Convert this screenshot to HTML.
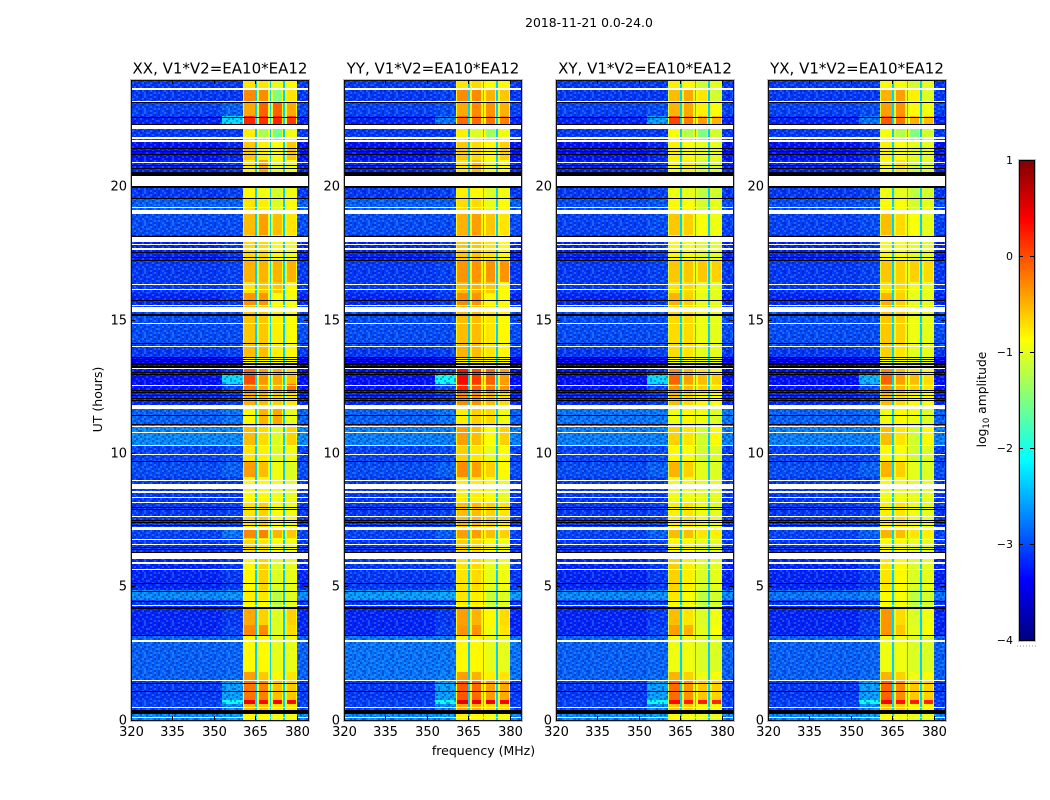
<!DOCTYPE html>
<html>
<head>
<meta charset="utf-8">
<title>2018-11-21 0.0-24.0</title>
<style>
html,body{margin:0;padding:0;background:#fff;}
svg{display:block;}
text{font-family:"DejaVu Sans","Liberation Sans",sans-serif;fill:#000;}
</style>
</head>
<body>
<svg id="figure" xmlns="http://www.w3.org/2000/svg" width="1050" height="800" viewBox="0 0 1050 800">
  <rect x="0" y="0" width="1050" height="800" fill="#fff"/>
  <defs>
    <pattern id="speckle" patternUnits="userSpaceOnUse" width="28" height="16"></pattern>
  </defs>
  <text x="589" y="27" text-anchor="middle" font-size="12.4">2018-11-21 0.0-24.0</text>
  <text x="483.5" y="755" text-anchor="middle" font-size="12.5">frequency (MHz)</text>
  <text x="0" y="0" transform="translate(102,399.5) rotate(-90)" text-anchor="middle" font-size="12.5">UT (hours)</text>
  <text x="0" y="0" transform="translate(986,399.5) rotate(-90)" text-anchor="middle" font-size="12.3">log<tspan font-size="8.5" dy="3">10</tspan><tspan dy="-3"> amplitude</tspan></text>
  <g id="panels"></g>
  <g id="colorbar"></g>
</svg>
<script>
// ---------- data ----------
const panelTitles = ["XX, V1*V2=EA10*EA12", "YY, V1*V2=EA10*EA12", "XY, V1*V2=EA10*EA12", "YX, V1*V2=EA10*EA12"];
const freqTicks = [320, 335, 350, 365, 380];
const utTicks = [0, 5, 10, 15, 20];
const colorbarTicks = [1, 0, -1, -2, -3, -4];

// frequency groups (MHz): quiet, band edge, then RFI chunks with shoulders and notches
const freqEdges = [320, 353, 360.5, 361, 364.7, 365, 365.7, 366.2, 369.6, 370.1, 370.7, 371.2, 374.5, 374.9, 375.8, 376.3, 379.6, 380, 384];
// which level column each group reads (-1 = notch between chunks, -2 = chunk shoulder)
const freqColumns = [0, 1, -2, 2, -2, -1, -2, 3, -2, -1, -2, 4, -2, -1, -2, 5, -2, 0];
const notchLevel = -2.35;
const shoulderLevels = [-0.9, -0.85, -1.0, -1.0];

// lower UT edge of each time band, from the top (24 h) down
const bandBottoms = [23.67,23.18,22.63,22.33,21.73,20.98,20.42,19.55,19.10,18.17,17.23,16.40,15.99,15.54,14.04,13.59,13.18,12.92,12.58,12.28,11.63,11.04,10.30,9.69,9.09,8.12,7.11,6.80,6.02,4.86,4.48,4.18,3.54,3.17,1.78,1.48,0.74,0.58,0.21,0];

// log10 amplitude per band: [quiet, edge, chunk1, chunk2, chunk3, chunk4]
const levelsXX = [
[-3.1,-3.1,-.75,-.75,-1.0,-.85],[-3.1,-3.1,-.3,-.3,-1.5,-.75],[-3.05,-2.9,-.45,-.1,-.1,-.45],[-3.2,-2.3,.2,.15,.2,.1],
[-3.1,-3.1,-.8,-1.3,-1.6,-.95],[-3.3,-3.2,-.6,-.8,-.9,-.6],[-3.2,-3.1,-.8,-.45,-1.0,-.95],[-3.1,-3.05,-.85,-.95,-1.1,-.95],
[-2.9,-2.9,-.75,-.8,-1.05,-.9],[-3.0,-3.0,-.55,-.4,-.55,-.75],[-3.2,-3.1,-.7,-.7,-.85,-.95],[-3.1,-3.05,-.5,-.5,-.5,-.5],
[-3.1,-3.05,-.75,-.6,-.6,-.85],[-3.2,-3.1,-.35,-.35,-.9,-.95],[-3.0,-3.0,-.6,-.6,-.8,-.9],[-3.1,-3.05,-.55,-.55,-.8,-.85],
[-3.4,-3.3,-.85,-.85,-.9,-.9],[-3.3,-3.1,-.15,-.4,-.5,-.7],[-3.3,-2.3,.0,-.35,-.45,-.55],[-3.3,-3.0,-.25,-.45,-.5,-.2],
[-3.2,-3.1,-.5,-.55,-.65,-.75],[-2.9,-2.8,-.85,-.5,-.45,-1.0],[-2.7,-2.7,-.55,-.7,-1.05,-.65],[-3.05,-3.0,-.75,-.8,-1.05,-.95],
[-3.0,-2.9,-.4,-.55,-.95,-1.05],[-3.1,-3.1,-.85,-.85,-.95,-1.0],[-3.1,-3.05,-.75,-.65,-.9,-.95],[-3.05,-2.8,-.3,-.25,-.5,-.6],
[-3.1,-3.05,-.7,-.75,-.9,-.95],[-3.2,-3.1,-.85,-.65,-1.05,-1.0],[-2.7,-2.65,-.8,-.75,-1.25,-1.05],[-3.1,-3.05,-.85,-.85,-1.25,-1.05],
[-3.2,-3.1,-.45,-.65,-1.05,-.65],[-3.2,-3.05,-.3,-.3,-1.05,-.7],[-2.9,-2.88,-.85,-.85,-1.0,-1.0],[-2.9,-2.85,-.4,-.6,-.85,-.75],
[-3.1,-2.6,-.2,-.25,-.55,-.6],[-3.05,-2.1,.45,.35,.4,.35],[-3.05,-2.7,-.55,-.6,-.75,-.75],[-2.7,-2.6,-.85,-.85,-.95,-.95]];
const levelsYY = [
[-3.1,-3.1,-.75,-.7,-.9,-.85],[-3.1,-3.05,-.3,-.3,-.5,-.6],[-3.05,-3.0,-.45,-.3,-.35,-.5],[-3.2,-2.8,-.15,-.15,-.2,-.25],
[-3.1,-3.1,-.8,-1.05,-1.35,-.95],[-3.3,-3.2,-.6,-.7,-.85,-.65],[-3.2,-3.1,-.75,-.55,-.95,-.9],[-3.1,-3.05,-.8,-.85,-1.05,-.95],
[-2.9,-2.9,-.7,-.7,-1.0,-.9],[-3.0,-3.0,-.5,-.4,-.6,-.75],[-3.2,-3.1,-.6,-.6,-.75,-.9],[-3.1,-3.05,-.35,-.35,-.35,-.35],
[-3.1,-3.05,-.55,-.5,-.6,-.85],[-3.2,-3.1,-.3,-.35,-.85,-.9],[-3.0,-3.0,-.55,-.55,-.75,-.85],[-3.1,-3.05,-.5,-.55,-.75,-.85],
[-3.4,-3.3,-.8,-.8,-.85,-.9],[-3.3,-3.0,.3,.0,-.15,-.4],[-3.3,-2.1,.35,.1,-.1,-.4],[-3.3,-3.0,.2,-.1,-.25,-.35],
[-3.2,-3.1,-.3,-.35,-.55,-.7],[-2.9,-2.8,-.8,-.65,-.7,-.95],[-2.75,-2.75,-.4,-.55,-.9,-.65],[-3.05,-3.0,-.65,-.75,-1.0,-.9],
[-3.0,-2.9,-.3,-.4,-.65,-.85],[-3.1,-3.1,-.8,-.8,-.9,-1.0],[-3.1,-3.05,-.55,-.55,-.65,-.75],[-3.05,-2.9,-.4,-.4,-.55,-.65],
[-3.1,-3.05,-.65,-.7,-.85,-.95],[-3.1,-3.05,-.75,-.7,-1.0,-.95],[-2.6,-2.55,-.75,-.8,-1.15,-1.05],[-3.1,-3.05,-.8,-.8,-1.15,-1.05],
[-3.2,-3.1,-.4,-.5,-.85,-.7],[-3.2,-3.05,-.35,-.35,-.95,-.75],[-2.8,-2.78,-.85,-.85,-1.0,-1.0],[-2.8,-2.75,-.4,-.5,-.8,-.75],
[-3.1,-2.6,-.05,-.15,-.4,-.45],[-3.05,-2.1,.5,.45,.45,.4],[-3.05,-2.7,-.45,-.5,-.7,-.7],[-2.7,-2.6,-.8,-.85,-.95,-.95]];
const levelsXY = [
[-3.1,-3.1,-.8,-.85,-1.1,-1.0],[-3.1,-3.1,-.55,-.45,-.75,-1.1],[-3.05,-3.0,-.5,-.45,-.8,-.9],[-3.2,-2.6,.05,-.25,-.4,-.5],
[-3.1,-3.1,-.9,-1.25,-1.5,-1.1],[-3.3,-3.2,-.8,-.9,-1.0,-1.0],[-3.2,-3.1,-.9,-.8,-1.1,-1.05],[-3.1,-3.05,-.95,-1.0,-1.2,-1.1],
[-3.0,-2.95,-.85,-.9,-1.1,-1.0],[-3.05,-3.0,-.6,-.65,-.9,-.95],[-3.2,-3.1,-.85,-.9,-1.0,-1.0],[-3.1,-3.05,-.6,-.6,-.6,-.65],
[-3.1,-3.05,-.75,-.7,-.95,-1.0],[-3.2,-3.1,-.5,-.65,-1.0,-1.0],[-3.0,-3.0,-.7,-.7,-.95,-1.0],[-3.1,-3.05,-.7,-.75,-1.0,-1.0],
[-3.4,-3.3,-.95,-.95,-1.0,-1.0],[-3.3,-3.1,-.35,-.55,-.75,-.85],[-3.3,-2.3,-.1,-.4,-.55,-.65],[-3.3,-3.0,-.35,-.55,-.65,-.75],
[-3.2,-3.1,-.55,-.7,-.85,-.9],[-2.8,-2.78,-.95,-.85,-.95,-1.05],[-2.75,-2.75,-.65,-.75,-1.1,-.85],[-3.05,-3.0,-.85,-.9,-1.1,-1.05],
[-3.0,-2.9,-.5,-.65,-1.0,-1.05],[-3.1,-3.1,-.95,-.95,-1.0,-1.0],[-3.1,-3.05,-.8,-.75,-.95,-1.0],[-3.05,-2.9,-.55,-.55,-.75,-.8],
[-3.1,-3.05,-.85,-.85,-1.0,-1.0],[-3.2,-3.1,-.65,-.8,-1.05,-1.0],[-2.7,-2.65,-.75,-.9,-1.2,-1.1],[-3.1,-3.05,-.9,-.95,-1.2,-1.1],
[-3.2,-3.1,-.55,-.75,-1.05,-.95],[-3.2,-3.05,-.4,-.5,-1.0,-.9],[-2.9,-2.88,-.95,-.95,-1.05,-1.05],[-2.9,-2.85,-.5,-.65,-.95,-.9],
[-3.1,-2.6,-.15,-.35,-.6,-.65],[-3.05,-2.1,.35,.25,.25,.2],[-3.05,-2.7,-.6,-.65,-.85,-.85],[-2.7,-2.6,-.9,-.95,-1.0,-1.0]];
const levelsYX = [
[-3.1,-3.1,-.85,-.9,-1.1,-1.0],[-3.1,-3.1,-.5,-.4,-.8,-1.05],[-3.05,-3.0,-.4,-.35,-.85,-.95],[-3.2,-2.8,-.05,-.2,-.5,-.55],
[-3.1,-3.1,-.9,-1.25,-1.5,-1.1],[-3.3,-3.2,-.8,-.9,-1.0,-1.0],[-3.2,-3.1,-.9,-.75,-1.1,-1.05],[-3.1,-3.05,-.95,-1.0,-1.2,-1.1],
[-3.0,-2.95,-.85,-.9,-1.1,-1.0],[-3.05,-3.0,-.55,-.7,-.9,-1.0],[-3.2,-3.1,-.85,-.9,-1.0,-1.0],[-3.1,-3.05,-.6,-.65,-.65,-.7],
[-3.1,-3.05,-.75,-.7,-.95,-1.0],[-3.2,-3.1,-.5,-.65,-1.0,-1.0],[-3.0,-3.0,-.6,-.65,-.95,-1.0],[-3.1,-3.05,-.65,-.75,-1.0,-1.0],
[-3.4,-3.3,-.95,-.95,-1.0,-1.0],[-3.3,-3.1,-.3,-.55,-.75,-.85],[-3.3,-2.5,-.1,-.4,-.55,-.7],[-3.3,-3.0,-.35,-.55,-.65,-.75],
[-3.2,-3.1,-.55,-.7,-.85,-.9],[-2.9,-2.85,-.95,-.85,-.95,-1.05],[-2.75,-2.75,-.55,-.75,-1.1,-.85],[-3.05,-3.0,-.85,-.9,-1.1,-1.05],
[-3.0,-2.9,-.5,-.65,-1.0,-1.05],[-3.1,-3.1,-.95,-.95,-1.0,-1.0],[-3.1,-3.05,-.8,-.75,-.95,-1.0],[-3.05,-2.9,-.5,-.55,-.75,-.8],
[-3.1,-3.05,-.85,-.85,-1.0,-1.0],[-3.2,-3.1,-.75,-.85,-1.05,-1.0],[-2.8,-2.75,-.85,-.9,-1.2,-1.1],[-3.1,-3.05,-.9,-.95,-1.2,-1.1],
[-3.2,-3.1,-.35,-.7,-1.05,-.95],[-3.2,-3.05,-.35,-.6,-1.0,-.9],[-2.9,-2.88,-.95,-.95,-1.05,-1.05],[-2.9,-2.85,-.5,-.65,-.95,-.9],
[-3.1,-2.6,-.1,-.3,-.6,-.65],[-3.05,-2.1,.4,.3,.25,.2],[-3.05,-2.7,-.6,-.65,-.85,-.85],[-2.7,-2.6,-.9,-.95,-1.0,-1.0]];
const panelLevels = [levelsXX, levelsYY, levelsXY, levelsYX];

// missing data (white): UT spans [upper, lower]
const missingSpans = [[23.67,23.60],[23.20,23.16],[22.32,22.14],[21.85,21.78],[21.73,21.67],[20.92,20.89],[20.38,20.00],[19.23,19.19],[19.10,18.95],[18.10,17.92],[17.83,17.79],[17.68,17.60],[16.33,16.29],[16.14,16.10],[15.54,15.50],[15.46,15.29],[14.87,14.83],[14.02,13.98],[13.20,13.16],[12.54,12.50],[11.79,11.63],[11.00,10.97],[10.78,10.74],[10.29,10.26],[9.96,9.92],[8.98,8.94],[8.83,8.64],[8.57,8.49],[8.36,8.32],[8.15,8.12],[7.63,7.59],[7.22,7.11],[6.77,6.73],[6.58,6.54],[6.24,6.02],[5.89,5.85],[5.65,5.61],[4.29,4.26],[2.98,2.91],[1.49,1.43],[0.47,0.43],[0.08,0.04]];
// flagged data (black): single-integration lines and thicker spans
const flaggedLines = [23.16,22.61,22.34,21.45,21.33,21.19,20.79,20.70,20.55,19.54,18.15,17.53,17.34,17.23,15.75,14.12,13.58,13.51,13.44,13.38,13.32,13.27,13.22,13.04,12.94,12.36,12.28,12.17,12.06,11.98,11.42,11.07,9.70,7.97,7.89,7.48,7.41,7.29,6.47,6.40,6.28,5.12,4.82,4.46,3.17,1.37,1.07];
const flaggedSpans = [[20.48,20.38],[20.00,19.95],[15.19,15.15],[4.21,4.15],[0.36,0.21]];

// hand-drawn noise tile for the quiet part of the band (decorative grain, not a data series)
const grainTile = [
"d.l.dd.l.d..l.",
".ld..l.d.dl..d",
"d..ll.d..l.d.l",
"l.d.d.l.d..ld.",
".d.l..d.ll.d..",
"dl.d.l..d.d.l.",
"..ld.d.l.l..dl",
"d.l..l.d.d.l.d"];

// ---------- layout and scales ----------
const SVG_NS = "http://www.w3.org/2000/svg";
const panelLefts = [131, 344, 556, 768];
const plotWidth = 177;
const plotBottom = 719.5;
const plotTop = 79.5;
const utPerPlot = 24;
const freqMin = 320, freqMax = 384;
function xScale(left, f){ return Math.round(left + (f - freqMin) / (freqMax - freqMin) * plotWidth); }
function yScale(u){ return Math.round(plotBottom - u / utPerPlot * (plotBottom - plotTop)); }
function clamp01(v){ return Math.max(0, Math.min(1, v)); }
function jet(level){
  const t = clamp01((level + 4) / 5);
  const r = clamp01(1.5 - Math.abs(4 * t - 3));
  const g = clamp01(1.5 - Math.abs(4 * t - 2));
  const b = clamp01(1.5 - Math.abs(4 * t - 1));
  return "rgb(" + Math.round(r * 255) + "," + Math.round(g * 255) + "," + Math.round(b * 255) + ")";
}
function make(tag, attrs, parent){
  const el = document.createElementNS(SVG_NS, tag);
  for (const k in attrs) el.setAttribute(k, attrs[k]);
  parent.appendChild(el);
  return el;
}
function fmtTick(v){ return v < 0 ? "\u2212" + Math.abs(v) : String(v); }

// grain pattern
const speckle = document.getElementById("speckle");
grainTile.forEach(function(row, r){
  row.split("").forEach(function(ch, c){
    if (ch === ".") return;
    const fill = ch === "d" ? "rgba(0,0,110,0.32)" : "rgba(110,215,255,0.24)";
    make("rect", {x: c * 2, y: r * 2, width: 2, height: 2, fill: fill}, speckle);
  });
});

// panels
const panelsGroup = document.getElementById("panels");
panelTitles.forEach(function(title, p){
  const left = panelLefts[p];
  const right = left + plotWidth;
  const top = Math.round(plotTop);
  const bottom = Math.round(plotBottom);
  const g = make("g", {}, panelsGroup);
  
  

  const titleEl = make("text", {x: left + plotWidth / 2 + 0.5, y: 73.5, "text-anchor": "middle", "font-size": 15}, g);
  titleEl.textContent = title;
  
  

  // heatmap cells
  const levels = panelLevels[p];
  bandBottoms.forEach(function(bottomUt, b){
    const upperUt = b === 0 ? utPerPlot : bandBottoms[b - 1];
    const y0 = yScale(upperUt), y1 = yScale(bottomUt);
    freqColumns.forEach(function(col, i){
      const x0 = xScale(left, freqEdges[i]), x1 = xScale(left, freqEdges[i + 1]);
      const level = col === -1 ? notchLevel : (col === -2 ? shoulderLevels[p] : levels[b][col]);
      const cell = make("rect", {x: x0, y: y0, width: x1 - x0, height: y1 - y0, fill: jet(level)}, g);
      
      
    });
  });

  // decorative grain over the quiet frequency range
  const grainEnd = xScale(left, freqEdges[2]);
  const grainStart = xScale(left, freqEdges[freqEdges.length - 2]);
  const grain = make("rect", {x: left, y: top, width: grainEnd - left, height: bottom - top, fill: "url(#speckle)"}, g);
  
  
  const grainRight = make("rect", {x: grainStart, y: top, width: right - grainStart, height: bottom - top, fill: "url(#speckle)"}, g);
  
  

  // missing rows
  missingSpans.forEach(function(s){
    const y0 = yScale(s[0]);
    const h = Math.max(1, yScale(s[1]) - y0);
    const gap = make("rect", {x: left, y: y0, width: plotWidth, height: h, fill: "#fff"}, g);
    
    
  });
  // flagged rows
  flaggedLines.forEach(function(u){
    const line = make("rect", {x: left, y: yScale(u), width: plotWidth, height: 1, fill: "#000"}, g);
    
    
  });
  flaggedSpans.forEach(function(s){
    const y0 = yScale(s[0]);
    const span = make("rect", {x: left, y: y0, width: plotWidth, height: Math.max(1, yScale(s[1]) - y0), fill: "#000"}, g);
    
    
  });

  // frame
  const halo = make("rect", {x: left - 0.5, y: top - 0.5, width: plotWidth + 2, height: bottom - top + 2, fill: "none", stroke: "#bdbdbd", "stroke-width": 1}, g);
  
  
  const frame = make("rect", {x: left + 0.5, y: top + 0.5, width: plotWidth, height: bottom - top, fill: "none", stroke: "#111", "stroke-width": 1}, g);
  
  

  // x ticks
  freqTicks.forEach(function(f){
    const x = xScale(left, f) + 0.5;
    const tb = make("line", {x1: x, x2: x, y1: bottom, y2: bottom - 4, stroke: "#000", "stroke-width": 1}, g);
    
    
    const tt = make("line", {x1: x, x2: x, y1: top, y2: top + 4, stroke: "#000", "stroke-width": 1}, g);
    
    
    const label = make("text", {x: x, y: 736, "text-anchor": "middle", "font-size": 13}, g);
    label.textContent = f;
    
    
  });
  // y ticks
  utTicks.forEach(function(u){
    const y = yScale(u) + 0.5;
    const tl = make("line", {x1: left, x2: left + 4, y1: y, y2: y, stroke: "#000", "stroke-width": 1}, g);
    
    
    const tr = make("line", {x1: right - 4, x2: right, y1: y, y2: y, stroke: "#000", "stroke-width": 1}, g);
    
    
    const label = make("text", {x: left - 4, y: y + 4, "text-anchor": "end", "font-size": 13}, g);
    label.textContent = u;
    
    
  });
});

// colorbar
const cbGroup = document.getElementById("colorbar");
const cbLeft = 1019, cbRight = 1034, cbTop = 160, cbBottom = 640;
const cbMin = -4, cbMax = 1;
function cbY(v){ return cbBottom - (v - cbMin) / (cbMax - cbMin) * (cbBottom - cbTop); }
for (let py = cbTop; py < cbBottom; py += 2) {
  const level = cbMax - (py + 1 - cbTop) / (cbBottom - cbTop) * (cbMax - cbMin);
  const step = make("rect", {x: cbLeft, y: py, width: cbRight - cbLeft, height: 2, fill: jet(level)}, cbGroup);
  
  
}
const cbHalo = make("rect", {x: cbLeft - 0.5, y: cbTop - 0.5, width: cbRight - cbLeft + 2, height: cbBottom - cbTop + 2, fill: "none", stroke: "#bdbdbd", "stroke-width": 1}, cbGroup);


const cbFrame = make("rect", {x: cbLeft + 0.5, y: cbTop + 0.5, width: cbRight - cbLeft, height: cbBottom - cbTop, fill: "none", stroke: "#000", "stroke-width": 1}, cbGroup);


colorbarTicks.forEach(function(v){
  const y = Math.round(cbY(v)) + 0.5;
  const a = make("line", {x1: cbLeft, x2: cbLeft + 4, y1: y, y2: y, stroke: "#000", "stroke-width": 1}, cbGroup);
  
  
  const b = make("line", {x1: cbRight - 4, x2: cbRight, y1: y, y2: y, stroke: "#000", "stroke-width": 1}, cbGroup);
  
  
  const label = make("text", {x: 1013, y: y + 3.5, "text-anchor": "end", "font-size": 11}, cbGroup);
  label.textContent = fmtTick(v);
  
  
});
const cbDots = make("line", {x1: 1017, x2: 1036, y1: 646, y2: 646, stroke: "#999", "stroke-width": 1, "stroke-dasharray": "1 2"}, cbGroup);


</script>
</body>
</html>
